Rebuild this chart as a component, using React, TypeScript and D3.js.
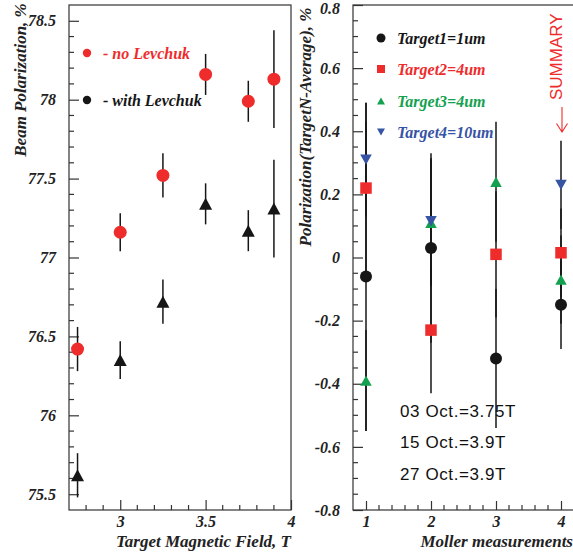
import React, {useEffect, useRef} from 'react';
import * as d3 from 'd3';

// Left panel: beam polarization vs. target magnetic field
const fieldValues = [2.75, 3, 3.25, 3.5, 3.75, 3.9];
const noLevchuk = [76.42, 77.16, 77.52, 78.16, 77.99, 78.13];
const noLevchukErr = [0.14, 0.12, 0.14, 0.13, 0.13, 0.31];
const withLevchuk = [75.62, 76.35, 76.72, 77.34, 77.17, 77.31];
const withLevchukErr = [0.14, 0.12, 0.14, 0.13, 0.13, 0.31];

const leftYTicks = [75.5, 76, 76.5, 77, 77.5, 78, 78.5];
const leftXTicks = [3, 3.5, 4];

// Right panel: per-target deviation from average
const measurements = [1, 2, 3, 4];
const target1 = [-0.06, 0.03, -0.32, -0.15];
const target1Err = [0.49, 0.3, 0.22, 0.14];
const target2 = [0.22, -0.23, 0.01, 0.015];
const target2Err = [0.27, 0.2, 0.2, 0.14];
const target3 = [-0.39, 0.11, 0.24, -0.07];
const target3Err = [0.16, 0.2, 0.19, 0.14];
const target4 = [0.31, 0.115, null, 0.23];
const target4Err = [0.18, 0.2, null, 0.14];

const rightYTicks = [-0.8, -0.6, -0.4, -0.2, 0, 0.2, 0.4, 0.6, 0.8];
const rightXTicks = [1, 2, 3, 4];

const dateNotes = ['03 Oct.=3.75T', '15 Oct.=3.9T', '27 Oct.=3.9T'];

const RED = '#ee2c2c';
const GREEN = '#14a14f';
const BLUE = '#3653a4';
const BLACK = '#161616';
const SERIF = '"Liberation Serif", "Times New Roman", serif';
const SANS = '"Liberation Sans", Arial, sans-serif';

const triPath = (cx: number, cy: number, w: number, h: number, up: boolean) =>
  up
    ? `M${cx - w / 2},${cy + h / 2}L${cx + w / 2},${cy + h / 2}L${cx},${cy - h / 2}Z`
    : `M${cx - w / 2},${cy - h / 2}L${cx + w / 2},${cy - h / 2}L${cx},${cy + h / 2}Z`;

export default function App() {
  const svgRef = useRef<SVGSVGElement>(null);

  useEffect(() => {
    if (!svgRef.current) return;
    const svg = d3.select(svgRef.current);
    svg.selectAll('*').remove();

    const styleAxis = (g: any, size: number, anchor: string | null) => {
      g.select('.domain').remove();
      g.selectAll('line').attr('stroke', '#333').attr('stroke-width', 1.2);
      g.selectAll('text')
        .attr('fill', '#222')
        .style('font-family', SERIF)
        .style('font-size', size + 'px')
        .style('font-weight', 'bold')
        .style('font-style', 'italic');
      if (anchor) g.selectAll('text').attr('text-anchor', anchor);
    };

    // ---------- left panel ----------
    const xL = d3.scaleLinear().domain([2.7, 4]).range([69, 291]);
    const yL = d3.scaleLinear().domain([75.4, 78.6]).range([510, 5]);

    const left = svg.append('g');

    left
      .append('g')
      .attr('transform', `translate(${xL(2.7)},0)`)
      .call(
        d3.axisLeft(yL).tickValues(leftYTicks).tickSize(-10).tickPadding(13)
          .tickFormat((d: any) => String(d)),
      )
      .call((g: any) => styleAxis(g, 16, 'end'));

    left
      .append('g')
      .attr('transform', `translate(0,${yL(75.4)})`)
      .call(
        d3.axisBottom(xL).tickValues(leftXTicks).tickSize(-10).tickPadding(6)
          .tickFormat((d: any) => String(d)),
      )
      .call((g: any) => styleAxis(g, 16, 'middle'));

    // minor ticks
    left
      .append('g')
      .selectAll('line')
      .data(d3.range(755, 786).filter((v) => v % 5 !== 0).map((v) => v / 10))
      .join('line')
      .attr('x1', xL(2.7))
      .attr('x2', xL(2.7) + 5)
      .attr('y1', (d) => yL(d))
      .attr('y2', (d) => yL(d))
      .attr('stroke', '#333')
      .attr('stroke-width', 1.2);
    left
      .append('g')
      .selectAll('line')
      .data(d3.range(28, 40).filter((v) => v % 5 !== 0).map((v) => v / 10))
      .join('line')
      .attr('x1', (d) => xL(d))
      .attr('x2', (d) => xL(d))
      .attr('y1', yL(75.4))
      .attr('y2', yL(75.4) - 5)
      .attr('stroke', '#333')
      .attr('stroke-width', 1.2);

    left
      .append('rect')
      .attr('x', xL(2.7))
      .attr('y', yL(78.6))
      .attr('width', xL(4) - xL(2.7))
      .attr('height', yL(75.4) - yL(78.6))
      .attr('fill', 'none')
      .attr('stroke', '#333')
      .attr('stroke-width', 1.2);

    // error bars
    const leftErr = [
      ...fieldValues.map((x, i) => ({x, y: noLevchuk[i], e: noLevchukErr[i]})),
      ...fieldValues.map((x, i) => ({x, y: withLevchuk[i], e: withLevchukErr[i]})),
    ];
    left
      .append('g')
      .selectAll('line')
      .data(leftErr)
      .join('line')
      .attr('x1', (d) => xL(d.x))
      .attr('x2', (d) => xL(d.x))
      .attr('y1', (d) => yL(d.y - d.e))
      .attr('y2', (d) => yL(d.y + d.e))
      .attr('stroke', BLACK)
      .attr('stroke-width', 1.5);

    left
      .append('g')
      .selectAll('circle')
      .data(fieldValues)
      .join('circle')
      .attr('cx', (d) => xL(d))
      .attr('cy', (d, i) => yL(noLevchuk[i]))
      .attr('r', 6.5)
      .attr('fill', RED);

    left
      .append('g')
      .selectAll('path')
      .data(fieldValues)
      .join('path')
      .attr('d', (d, i) => triPath(xL(d), yL(withLevchuk[i]), 13, 12, true))
      .attr('fill', BLACK);

    // legend
    const legL = [
      {label: '- no Levchuk', color: RED, y: 53},
      {label: '- with Levchuk', color: BLACK, y: 100},
    ];
    const lg = left.append('g').selectAll('g').data(legL).join('g');
    lg.append('circle')
      .attr('cx', 87)
      .attr('cy', (d) => d.y)
      .attr('r', 4.2)
      .attr('fill', (d) => d.color);
    lg.append('text')
      .attr('x', 103)
      .attr('y', (d) => d.y + 6)
      .attr('fill', (d) => d.color)
      .style('font-family', SERIF)
      .style('font-size', '16px')
      .style('font-weight', 'bold')
      .style('font-style', 'italic')
      .text((d) => d.label);

    left
      .append('text')
      .attr('transform', 'translate(26,80) rotate(-90)')
      .attr('text-anchor', 'middle')
      .attr('fill', '#222')
      .style('font-family', SERIF)
      .style('font-size', '17px')
      .style('font-weight', 'bold')
      .style('font-style', 'italic')
      .text('Beam Polarization, %');

    left
      .append('text')
      .attr('x', 291)
      .attr('y', 547)
      .attr('text-anchor', 'end')
      .attr('fill', '#222')
      .style('font-family', SERIF)
      .style('font-size', '17px')
      .style('font-weight', 'bold')
      .style('font-style', 'italic')
      .text('Target Magnetic Field, T');

    // ---------- right panel ----------
    const xR = d3.scaleLinear().domain([0.8, 4.2]).range([353, 574]);
    const yR = d3.scaleLinear().domain([-0.8, 0.8]).range([510, 5]);
    const right = svg.append('g');

    right
      .append('g')
      .attr('transform', `translate(${xR(0.8)},0)`)
      .call(
        d3.axisLeft(yR).tickValues(rightYTicks).tickSize(-10).tickPadding(13)
          .tickFormat((d: any) => String(d)),
      )
      .call((g: any) => styleAxis(g, 16, 'end'))
      .call((g: any) =>
        g.selectAll('.tick text').filter((d: any) => d === 0.8).attr('dy', '0.55em'),
      );

    right
      .append('g')
      .attr('transform', `translate(0,${yR(-0.8)})`)
      .call(
        d3.axisBottom(xR).tickValues(rightXTicks).tickSize(-9).tickPadding(6)
          .tickFormat((d: any) => String(d)),
      )
      .call((g: any) => styleAxis(g, 16, 'middle'));

    right
      .append('g')
      .selectAll('line')
      .data(d3.range(-15, 16).filter((v) => v % 4 !== 0).map((v) => v * 0.05))
      .join('line')
      .attr('x1', xR(0.8))
      .attr('x2', xR(0.8) + 5)
      .attr('y1', (d) => yR(d))
      .attr('y2', (d) => yR(d))
      .attr('stroke', '#333')
      .attr('stroke-width', 1.2);
    right
      .append('g')
      .selectAll('line')
      .data(d3.range(5, 21).filter((v) => v % 5 !== 0).map((v) => v * 0.2))
      .join('line')
      .attr('x1', (d) => xR(d))
      .attr('x2', (d) => xR(d))
      .attr('y1', yR(-0.8))
      .attr('y2', yR(-0.8) - 5)
      .attr('stroke', '#333')
      .attr('stroke-width', 1.2);

    right
      .append('rect')
      .attr('x', xR(0.8))
      .attr('y', yR(0.8))
      .attr('width', xR(4.2) - xR(0.8))
      .attr('height', yR(-0.8) - yR(0.8))
      .attr('fill', 'none')
      .attr('stroke', '#333')
      .attr('stroke-width', 1.2);

    const series = [
      {vals: target1, errs: target1Err, color: BLACK, kind: 'circle'},
      {vals: target2, errs: target2Err, color: RED, kind: 'square'},
      {vals: target3, errs: target3Err, color: GREEN, kind: 'up'},
      {vals: target4, errs: target4Err, color: BLUE, kind: 'down'},
    ];

    const pts = series.flatMap((s) =>
      measurements
        .map((m, i) => ({x: m, y: s.vals[i], e: s.errs[i], color: s.color, kind: s.kind}))
        .filter((p) => p.y !== null),
    ) as {x: number; y: number; e: number; color: string; kind: string}[];

    right
      .append('g')
      .selectAll('line')
      .data(pts)
      .join('line')
      .attr('x1', (d) => xR(d.x))
      .attr('x2', (d) => xR(d.x))
      .attr('y1', (d) => yR(d.y - d.e))
      .attr('y2', (d) => yR(d.y + d.e))
      .attr('stroke', BLACK)
      .attr('stroke-width', 1.5);

    const markerPath = (kind: string, cx: number, cy: number, s: number) => {
      if (kind === 'circle') {
        const r = s / 2;
        return `M${cx - r},${cy}a${r},${r} 0 1,0 ${2 * r},0a${r},${r} 0 1,0 ${-2 * r},0Z`;
      }
      if (kind === 'square') {
        const h = s / 2;
        return `M${cx - h},${cy - h}h${s}v${s}h${-s}Z`;
      }
      return triPath(cx, cy, s, s * 0.9, kind === 'up');
    };

    right
      .append('g')
      .selectAll('path')
      .data(pts)
      .join('path')
      .attr('d', (d) => markerPath(d.kind, xR(d.x), yR(d.y), d.kind === 'circle' ? 12 : 11.5))
      .attr('fill', (d) => d.color);

    const legR = [
      {label: 'Target1=1um', color: BLACK, kind: 'circle', y: 38},
      {label: 'Target2=4um', color: RED, kind: 'square', y: 69},
      {label: 'Target3=4um', color: GREEN, kind: 'up', y: 101},
      {label: 'Target4=10um', color: BLUE, kind: 'down', y: 132},
    ];
    const rg = right.append('g').selectAll('g').data(legR).join('g');
    rg.append('path')
      .attr('d', (d) => markerPath(d.kind, 381, d.y, d.kind === 'circle' ? 9 : 8))
      .attr('fill', (d) => d.color);
    rg.append('text')
      .attr('x', 397)
      .attr('y', (d) => d.y + 6)
      .attr('fill', (d) => d.color)
      .style('font-family', SERIF)
      .style('font-size', '16px')
      .style('font-weight', 'bold')
      .style('font-style', 'italic')
      .text((d) => d.label);

    right
      .append('g')
      .selectAll('text')
      .data(dateNotes)
      .join('text')
      .attr('x', 400)
      .attr('y', (d, i) => [417, 448, 480][i])
      .attr('fill', '#111')
      .style('font-family', SANS)
      .style('font-size', '17px')
      .style('letter-spacing', '0.6px')
      .text((d) => d);

    // SUMMARY label with arrow
    right
      .append('text')
      .attr('transform', 'translate(562,100) rotate(-90)')
      .attr('fill', RED)
      .style('font-family', SANS)
      .style('font-size', '17px')
      .text('SUMMARY');
    right
      .append('path')
      .attr('d', 'M562,107V132M556.5,123.5L562,132L567.5,123.5')
      .attr('fill', 'none')
      .attr('stroke', RED)
      .attr('stroke-width', 1.1);

    right
      .append('text')
      .attr('transform', 'translate(311,127) rotate(-90)')
      .attr('text-anchor', 'middle')
      .attr('fill', '#222')
      .style('font-family', SERIF)
      .style('font-size', '17px')
      .style('font-weight', 'bold')
      .style('font-style', 'italic')
      .text('Polarization(TargetN-Average), %');

    right
      .append('text')
      .attr('x', 573)
      .attr('y', 547)
      .attr('text-anchor', 'end')
      .attr('fill', '#222')
      .style('font-family', SERIF)
      .style('font-size', '17px')
      .style('font-weight', 'bold')
      .style('font-style', 'italic')
      .text('Moller measurements');
  }, []);

  return (
    <svg
      ref={svgRef}
      width={573}
      height={556}
      style={{position: 'absolute', left: 0, top: 0, background: '#fff'}}
    />
  );
}
